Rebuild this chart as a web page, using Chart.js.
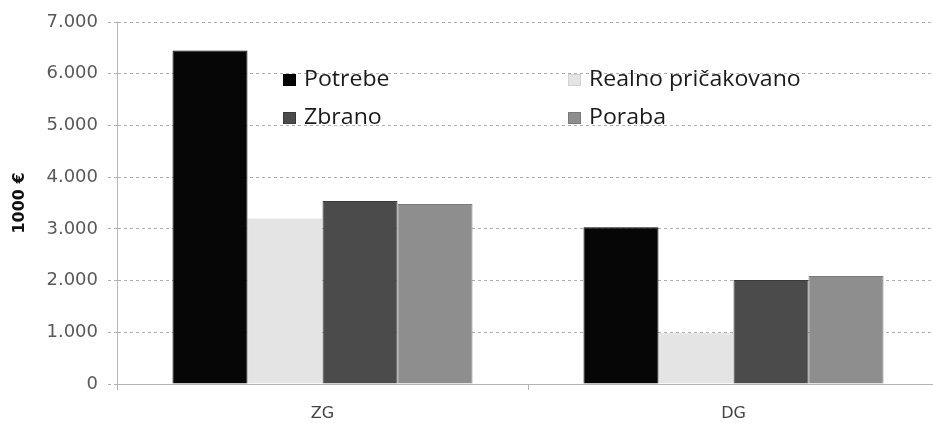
<!DOCTYPE html>
<html>
<head>
<meta charset="utf-8">
<script src="https://cdn.jsdelivr.net/npm/chart.js@4/dist/chart.umd.min.js"></script>
<style>
  html, body { margin: 0; padding: 0; background: #fff; overflow: hidden; }
  #wrap { width: 940px; height: 423px; position: relative; }
</style>
</head>
<body>
<div id="wrap"><canvas id="barChart"></canvas></div>
<script>
var categories = ["ZG", "DG"];
var seriesNames = ["Potrebe", "Realno pričakovano", "Zbrano", "Poraba"];
var potrebe = [6450, 3030];
var realno = [3200, 980];
var zbrano = [3540, 2010];
var poraba = [3480, 2090];
var yTicks = [0, 1000, 2000, 3000, 4000, 5000, 6000, 7000];

var fills = ["#060606", "#e4e4e4", "#4b4b4b", "#8e8e8e"];
var edges = ["#000000", "#d2d2d2", "#3a3a3a", "#7a7a7a"];

// legend drawn inside the plot, two columns like the original
var innerLegend = {
    id: "innerLegend",
    afterDatasetsDraw: function(chart) {
        var ctx = chart.ctx;
        var cols = [283, 568];
        var rows = [80, 118];
        ctx.save();
        ctx.font = "21px 'Open Sans'";
        ctx.textBaseline = "middle";
        chart.data.datasets.forEach(function(ds, i) {
            var x = cols[i % 2];
            var y = rows[Math.floor(i / 2)];
            ctx.fillStyle = ds.backgroundColor;
            ctx.fillRect(x, y - 6, 13, 12);
            ctx.strokeStyle = ds.borderColor;
            ctx.lineWidth = 1;
            ctx.strokeRect(x + 0.5, y - 5.5, 12, 11);
            // the original text is a bit wider than Open Sans
            ctx.save();
            ctx.translate(x + 21, y);
            ctx.scale(1.1, 1);
            ctx.fillStyle = "#1a1a1a";
            ctx.fillText(ds.label, 0, 0);
            ctx.restore();
        });
        ctx.restore();
    }
};

var values = [potrebe, realno, zbrano, poraba];
var datasets = seriesNames.map(function(name, i) {
    return {
        label: name,
        data: values[i],
        backgroundColor: fills[i],
        borderColor: edges[i],
        borderWidth: 1,
        barPercentage: 1.0,
        categoryPercentage: 0.73
    };
});

var ctx = document.getElementById("barChart");
new Chart(ctx, {
    type: "bar",
    data: { labels: categories, datasets: datasets },
    options: {
        responsive: true,
        maintainAspectRatio: false,
        animation: false,
        layout: { padding: { top: 22, right: 1, left: 0, bottom: 0 } },
        plugins: {
            legend: { display: false },
            tooltip: { enabled: false }
        },
        scales: {
            x: {
                afterFit: function(scale) { scale.height = 39; },
                grid: { drawOnChartArea: false, drawTicks: true, tickLength: 6, color: "#b5b5b5" },
                border: { color: "#b5b5b5" },
                ticks: { color: "#444", font: { family: "DejaVu Sans", size: 16 }, padding: 14 }
            },
            y: {
                min: 0,
                max: 7000,
                afterFit: function(scale) { scale.width = 117; },
                afterBuildTicks: function(scale) {
                    scale.ticks = yTicks.map(function(v) { return { value: v }; });
                },
                ticks: {
                    color: "#595959",
                    font: { family: "DejaVu Sans", size: 18 },
                    padding: 10,
                    callback: function(v) { return v.toLocaleString("de-DE"); }
                },
                grid: {
                    color: "#b0b0b0",
                    tickLength: 9,
                    tickBorderDash: [3, 3]
                },
                border: { color: "#b5b5b5", dash: [3, 3] },
                title: {
                    display: true,
                    text: "1000 €",
                    color: "#111",
                    font: { family: "DejaVu Sans", size: 16, weight: "bold" },
                    padding: { top: 10 }
                }
            }
        }
    },
    plugins: [innerLegend]
});
</script>
</body>
</html>
